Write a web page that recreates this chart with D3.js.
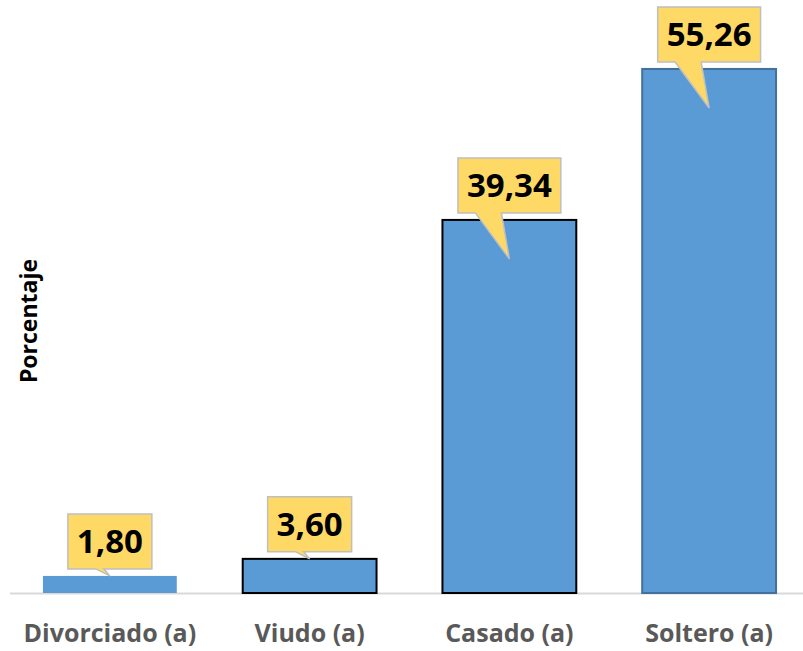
<!DOCTYPE html>
<html>
<head>
<meta charset="utf-8">
<script src="https://cdn.jsdelivr.net/npm/d3@7"></script>
<style>
  body { margin: 0; background: #fff; }
  svg { display: block; }
</style>
</head>
<body>
<div id="chart"></div>
<script>
"use strict"

const categories = ["Divorciado (a)", "Viudo (a)", "Casado (a)", "Soltero (a)"]
const values = [1.80, 3.60, 39.34, 55.26]
const yTitle = "Porcentaje"

const width = 803, height = 651
const baseY = 593

const svg = d3.select("#chart").append("svg")
    .attr("width", width).attr("height", height)

const x = d3.scaleBand()
    .domain(categories)
    .range([10, 809])
    .paddingInner(0.33)
    .paddingOuter(0.165)

const y = d3.scaleLinear()
    .domain([0, 60])
    .range([baseY, 24])

// outline colours differ per bar in the original
const outline = {"Divorciado (a)": "none", "Viudo (a)": "#000", "Casado (a)": "#000", "Soltero (a)": "#41719C"}

const data = categories.map((c, i) => ({cat: c, v: values[i]}))

// baseline
svg.append("line")
    .attr("x1", 10).attr("x2", width)
    .attr("y1", baseY + 0.5).attr("y2", baseY + 0.5)
    .attr("stroke", "#d9d9d9").attr("stroke-width", 2)

svg.selectAll("rect.bar")
    .data(data)
    .enter().append("rect")
    .attr("class", "bar")
    .attr("x", d => x(d.cat))
    .attr("y", d => y(d.v))
    .attr("width", x.bandwidth())
    .attr("height", d => baseY - y(d.v))
    .attr("fill", "#5B9BD5")
    .attr("stroke", d => outline[d.cat])
    .attr("stroke-width", 2)

// x axis labels
svg.selectAll("text.cat")
    .data(data)
    .enter().append("text")
    .attr("class", "cat")
    .attr("x", d => x(d.cat) + x.bandwidth() / 2)
    .attr("y", 642)
    .attr("text-anchor", "middle")
    .attr("font-family", "Open Sans")
    .attr("font-weight", 700)
    .attr("font-size", 25)
    .attr("fill", "#595959")
    .text(d => d.cat)

// y title
svg.append("text")
    .attr("transform", "translate(37,321) rotate(-90)")
    .attr("text-anchor", "middle")
    .attr("font-family", "Open Sans")
    .attr("font-weight", 700)
    .attr("font-size", 23)
    .attr("fill", "#000")
    .text(yTitle)

// callout labels
const callout = svg.selectAll("g.callout")
    .data(data)
    .enter().append("g")
    .attr("class", "callout")

callout.each(function(d) {
    const g = d3.select(this)
    const cx = x(d.cat) + x.bandwidth() / 2
    const top = y(d.v)
    const label = d3.format(".2f")(d.v).replace(".", ",")

    const path = g.append("path")
    const txt = g.append("text")
        .attr("x", cx)
        .attr("text-anchor", "middle")
        .attr("font-family", "Open Sans")
        .attr("font-weight", 700)
        .attr("font-size", 33)
        .attr("fill", "#000")
        .text(label)

    const tw = txt.node().getComputedTextLength()
    const w = tw + 18, h = 55
    const x0 = cx - w / 2, x1 = cx + w / 2
    const y1 = top - 7, y0 = y1 - h
    const big = d.v > 20
    const tipY = big ? top + 39 : top
    const b0 = big ? cx - 34 : cx - 14
    const b1 = big ? cx - 8 : cx - 6

    path.attr("d", `M${x0},${y0}H${x1}V${y1}H${b1}L${cx},${tipY}L${b0},${y1}H${x0}Z`)
        .attr("fill", "#FFD966")
        .attr("stroke", "#BFBFBF")
        .attr("stroke-width", 1.5)
        .attr("stroke-linejoin", "miter")

    txt.attr("y", y0 + h / 2 + 12)
})
</script>
</body>
</html>
